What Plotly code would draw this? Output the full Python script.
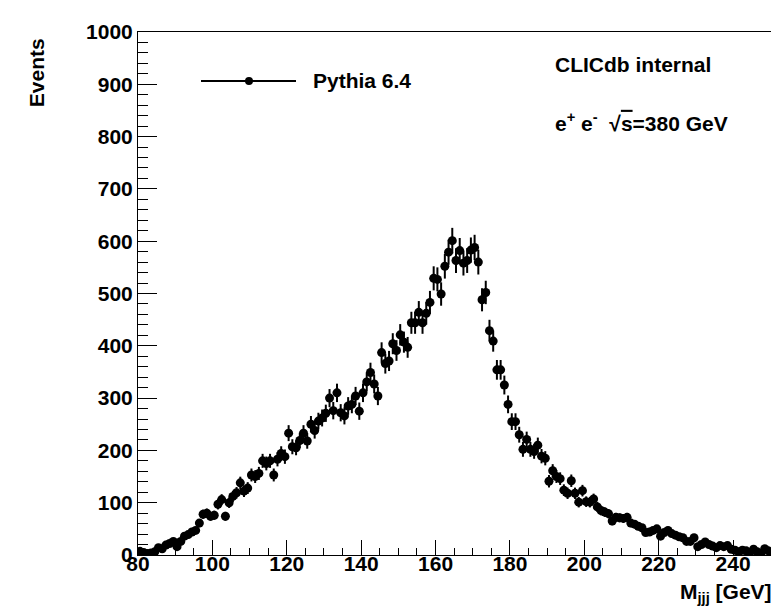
import numpy as np
import plotly.graph_objects as go

# Histogram: M_jjj, 1 GeV bins starting at 80 GeV
bin_low = 80.0
bin_width = 1.0
events = [
    7, 5, 3, 4, 6, 14, 12, 19, 22, 26,            # 80-89
    16, 26, 36, 39, 44, 47, 61, 78, 80, 74,       # 90-99
    76, 97, 106, 74, 100, 112, 119, 138, 122, 128,  # 100-109
    153, 150, 156, 180, 175, 180, 153, 183, 194, 188,  # 110-119
    233, 207, 205, 219, 233, 218, 250, 238, 256, 262,  # 120-129
    271, 300, 276, 310, 272, 266, 285, 288, 304, 275,  # 130-139
    310, 331, 349, 327, 304, 387, 366, 371, 404, 391,  # 140-149
    421, 407, 397, 444, 444, 464, 444, 462, 483, 529,  # 150-159
    527, 499, 552, 579, 601, 563, 582, 558, 563, 583,  # 160-169
    588, 560, 488, 502, 429, 409, 354, 354, 325, 288,  # 170-179
    255, 255, 230, 202, 221, 202, 198, 210, 189, 185,  # 180-189
    141, 161, 150, 146, 124, 118, 142, 118, 101, 123,  # 190-199
    102, 101, 107, 92, 85, 82, 79, 65, 72, 71,         # 200-209
    70, 72, 61, 59, 55, 52, 43, 44, 47, 50,            # 210-219
    36, 43, 47, 41, 38, 35, 33, 26, 26, 33,            # 220-229
    16, 20, 25, 20, 17, 14, 18, 16, 18, 11,            # 230-239
    9, 6, 9, 8, 5, 11, 6, 3, 12, 8,                    # 240-249
    3,                                                 # 250
]
x_ticks = [80, 100, 120, 140, 160, 180, 200, 220, 240]
y_ticks = [0, 100, 200, 300, 400, 500, 600, 700, 800, 900, 1000]

vals = np.array(events, dtype=float)
centers = bin_low + bin_width * (np.arange(len(vals)) + 0.5)
errors = np.sqrt(vals)

FONT = "Liberation Sans, Arial, Helvetica, sans-serif"

fig = go.Figure()
fig.add_trace(go.Scatter(
    x=centers, y=vals, mode="markers",
    marker=dict(symbol="circle", size=9, color="black"),
    error_y=dict(type="data", array=errors, visible=True,
                 color="black", thickness=2, width=0),
    showlegend=False,
))

axis_common = dict(
    showgrid=False, zeroline=False, showline=True, linecolor="black",
    linewidth=1, mirror=True, ticks="inside", tickcolor="black",
    tickfont=dict(family=FONT, size=21, color="black", weight="bold"),
)

fig.update_xaxes(
    range=[80, 251], tickvals=x_ticks, ticklen=15, tickwidth=1,
    ticklabelstandoff=-10,
    minor=dict(dtick=5, tick0=80, ticklen=7, ticks="inside", tickcolor="black"),
    **axis_common,
)
fig.update_yaxes(
    range=[0, 1000], tickvals=y_ticks, ticklen=19, tickwidth=1,
    minor=dict(dtick=20, tick0=0, ticklen=10, ticks="inside", tickcolor="black"),
    **axis_common,
)

W, H = 779, 607
L, R, T, B = 130, 13, 13, 60
pw, ph = W - L - R, H - T - B

def px(xp):
    return (xp - L) / pw

def py(yp):
    return (H - B - yp) / ph

# legend (ROOT style)
ly = py(63)
fig.add_shape(type="line", xref="paper", yref="paper",
              x0=px(193), x1=px(288), y0=ly, y1=ly,
              line=dict(color="black", width=2))
fig.add_shape(type="circle", xref="paper", yref="paper",
              x0=px(241 - 4), x1=px(241 + 4), y0=py(63 + 4), y1=py(63 - 4),
              fillcolor="black", line=dict(color="black", width=0))

txt_font = dict(family=FONT, size=21, color="black", weight="bold")
fig.add_annotation(xref="paper", yref="paper", x=px(303), y=ly,
                   xanchor="left", yanchor="middle", showarrow=False,
                   text="Pythia 6.4", font=txt_font)
fig.add_annotation(xref="paper", yref="paper", x=px(545), y=py(46),
                   xanchor="left", yanchor="middle", showarrow=False,
                   text="CLICdb internal", font=txt_font)
fig.add_annotation(xref="paper", yref="paper", x=px(545), y=py(105),
                   xanchor="left", yanchor="middle", showarrow=False,
                   text="e<sup>+</sup> e<sup>-</sup>  \u221a<span style='text-decoration:overline'>s</span>=380 GeV",
                   font=txt_font)
# axis titles
fig.add_annotation(xref="paper", yref="paper", x=px(28), y=py(55),
                   xanchor="center", yanchor="middle", showarrow=False,
                   textangle=-90, text="Events", font=txt_font)
fig.add_annotation(xref="paper", yref="paper", x=px(766), y=py(586),
                   xanchor="right", yanchor="middle", showarrow=False,
                   text="M<sub>jjj</sub> [GeV]", font=txt_font)

fig.update_layout(
    width=W, height=H,
    margin=dict(l=L, r=R, t=T, b=B),
    paper_bgcolor="white", plot_bgcolor="white",
    font=dict(family=FONT, color="black"),
)

fig.write_html("out.html")
